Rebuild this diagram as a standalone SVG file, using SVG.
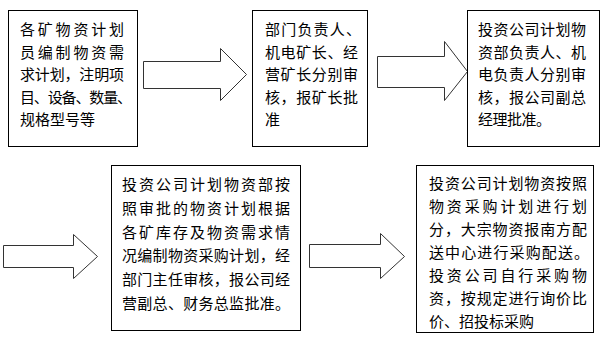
<svg xmlns="http://www.w3.org/2000/svg" width="605" height="340" viewBox="0 0 605 340">
<style>
.box{fill:#fff;stroke:#000;stroke-width:1}
.arr{fill:#fff;stroke:#333;stroke-width:1;stroke-linejoin:miter}
text{font-family:"Noto Sans CJK SC","Noto Sans CJK TC",sans-serif;font-size:15px;fill:#000}
</style>
<rect width="605" height="340" fill="#fff"/>
<g id="connectors">
<polygon class="arr" points="143.5,61.5 220.5,61.5 220.5,48.5 246.5,74.5 220.5,100.5 220.5,88.5 143.5,88.5"/>
<polygon class="arr" points="377.5,56.5 444.5,56.5 444.5,41.5 467.5,71.5 444.5,100.5 444.5,87.5 377.5,87.5"/>
<polygon class="arr" points="3.5,245.5 73.5,245.5 73.5,234.5 97.5,256.5 73.5,278.5 73.5,267.5 3.5,267.5"/>
<polygon class="arr" points="309.5,244.5 380.5,244.5 380.5,233.5 404.5,256.5 380.5,278.5 380.5,267.5 309.5,267.5"/>
</g>
<g id="node1">
<rect class="box" x="8.5" y="10.5" width="129" height="136"/>
<text x="20" y="35" textLength="104" lengthAdjust="spacing">各矿物资计划</text>
<text x="20" y="57.5" textLength="104" lengthAdjust="spacing">员编制物资需</text>
<text x="20" y="80" textLength="104" lengthAdjust="spacing">求计划，注明项</text>
<text x="20" y="102.5" textLength="112" lengthAdjust="spacing">目、设备、数量、</text>
<text x="20" y="125">规格型号等</text>
</g>
<g id="node2">
<rect class="box" x="252.5" y="10.5" width="115" height="136"/>
<text x="265" y="35" textLength="96" lengthAdjust="spacing">部门负责人、</text>
<text x="265" y="57.5" textLength="93" lengthAdjust="spacing">机电矿长、经</text>
<text x="265" y="80" textLength="93" lengthAdjust="spacing">营矿长分别审</text>
<text x="265" y="102.5" textLength="93" lengthAdjust="spacing">核，报矿长批</text>
<text x="265" y="125">准</text>
</g>
<g id="node3">
<rect class="box" x="467.5" y="10.5" width="132" height="136"/>
<text x="478" y="35" textLength="108" lengthAdjust="spacing">投资公司计划物</text>
<text x="478" y="57.5" textLength="108" lengthAdjust="spacing">资部负责人、机</text>
<text x="478" y="80" textLength="108" lengthAdjust="spacing">电负责人分别审</text>
<text x="478" y="102.5" textLength="108" lengthAdjust="spacing">核，报公司副总</text>
<text x="478" y="125" textLength="73" lengthAdjust="spacing">经理批准。</text>
</g>
<g id="node4">
<rect class="box" x="111.5" y="165.5" width="189" height="165"/>
<text x="122" y="190" textLength="168" lengthAdjust="spacing">投资公司计划物资部按</text>
<text x="122" y="214" textLength="168" lengthAdjust="spacing">照审批的物资计划根据</text>
<text x="122" y="237.5" textLength="168" lengthAdjust="spacing">各矿库存及物资需求情</text>
<text x="122" y="261" textLength="168" lengthAdjust="spacing">况编制物资采购计划，经</text>
<text x="122" y="285" textLength="168" lengthAdjust="spacing">部门主任审核，报公司经</text>
<text x="122" y="308.5" textLength="168" lengthAdjust="spacing">营副总、财务总监批准。</text>
</g>
<g id="node5">
<rect class="box" x="416.5" y="165.5" width="177" height="167"/>
<text x="429" y="189" textLength="158" lengthAdjust="spacing">投资公司计划物资按照</text>
<text x="429" y="212" textLength="158" lengthAdjust="spacing">物资采购计划进行划</text>
<text x="429" y="235" textLength="158" lengthAdjust="spacing">分，大宗物资报南方配</text>
<text x="429" y="258" textLength="160" lengthAdjust="spacing">送中心进行采购配送。</text>
<text x="429" y="281" textLength="158" lengthAdjust="spacing">投资公司自行采购物</text>
<text x="429" y="304" textLength="158" lengthAdjust="spacing">资，按规定进行询价比</text>
<text x="429" y="327">价、招投标采购</text>
</g>
</svg>
